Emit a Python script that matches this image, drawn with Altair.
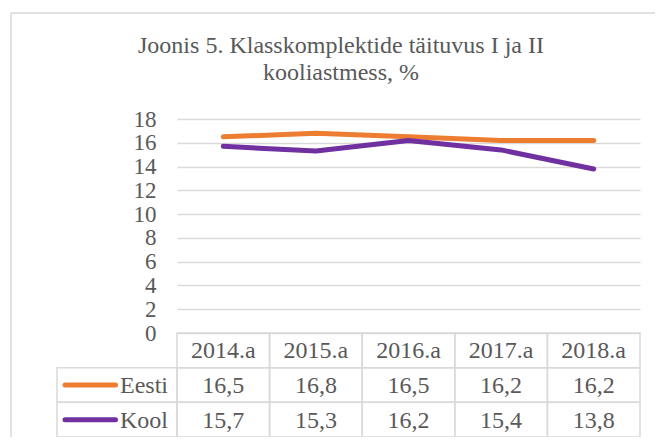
import altair as alt
import pandas as pd

# ---- data ----
years = ["2014.a", "2015.a", "2016.a", "2017.a", "2018.a"]
series = ["Eesti", "Kool"]
eesti = [16.5, 16.8, 16.5, 16.2, 16.2]
kool = [15.7, 15.3, 16.2, 15.4, 13.8]
colors = ["#ED7D31", "#7030A0"]
y_ticks = [0, 2, 4, 6, 8, 10, 12, 14, 16, 18]
title_lines = ["Joonis 5. Klasskomplektide täituvus I ja II", "kooliastmess, %"]
row_order = ["header"] + series

FONT = "Liberation Serif"
GREY = "#595959"
LINE = "#d9d9d9"

rows = []
for s, vals in zip(series, [eesti, kool]):
    for yr, v in zip(years, vals):
        rows.append({"year": yr, "series": s, "value": v,
                     "label": f"{v:.1f}".replace(".", ",")})
df = pd.DataFrame(rows)
header_df = pd.DataFrame({"year": years, "series": ["header"] * len(years), "label": years})
cells_df = pd.concat([header_df[["year", "series"]], df[["year", "series"]]], ignore_index=True)
legend_df = pd.DataFrame({"series": series})
one = pd.DataFrame({"k": [0]})
title_df = pd.DataFrame({"t": ["\n".join(title_lines)]})

W, H = 463, 214

xscale = alt.Scale(type="band", domain=years, paddingInner=0, paddingOuter=0)
row_scale = alt.Scale(type="band", domain=row_order, range=[H, H + 104],
                      paddingInner=0, paddingOuter=0)
color_scale = alt.Scale(domain=series, range=colors)

lines = alt.Chart(df).mark_line(strokeWidth=5, strokeCap="round", strokeJoin="round").encode(
    x=alt.X("year:N", scale=xscale, axis=None, bandPosition=0.5),
    y=alt.Y("value:Q", scale=alt.Scale(domain=[0, 18], nice=False, zero=True),
            axis=alt.Axis(values=y_ticks, grid=True, gridColor=LINE, gridWidth=1.5,
                          ticks=False, domain=False, labelFont=FONT, labelFontSize=23,
                          labelColor=GREY, labelPadding=21, title=None)),
    color=alt.Color("series:N", scale=color_scale, legend=None),
)

cells = alt.Chart(cells_df).mark_rect(filled=False, stroke=LINE, strokeWidth=1.5).encode(
    x=alt.X("year:N", scale=xscale, axis=None),
    y=alt.Y("series:N", scale=row_scale, axis=None),
)

legend_cells = alt.Chart(legend_df).mark_rect(filled=False, stroke=LINE, strokeWidth=1.5).encode(
    x=alt.value(-120), x2=alt.value(0),
    y=alt.Y("series:N", scale=row_scale, axis=None),
)

header_text = alt.Chart(header_df).mark_text(font=FONT, fontSize=24, color=GREY,
                                             baseline="middle", dy=1).encode(
    x=alt.X("year:N", scale=xscale, axis=None, bandPosition=0.5),
    y=alt.Y("series:N", scale=row_scale, axis=None, bandPosition=0.5),
    text="label:N",
)

value_text = alt.Chart(df).mark_text(font=FONT, fontSize=24, color=GREY,
                                     baseline="middle", dy=1).encode(
    x=alt.X("year:N", scale=xscale, axis=None, bandPosition=0.5),
    y=alt.Y("series:N", scale=row_scale, axis=None, bandPosition=0.5),
    text="label:N",
)

legend_lines = alt.Chart(legend_df).mark_rule(strokeWidth=5, strokeCap="round").encode(
    x=alt.value(-112), x2=alt.value(-61.5),
    y=alt.Y("series:N", scale=row_scale, axis=None, bandPosition=0.5),
    color=alt.Color("series:N", scale=color_scale, legend=None),
)

legend_text = alt.Chart(legend_df).mark_text(font=FONT, fontSize=24, color=GREY,
                                             align="right", baseline="middle", dy=1).encode(
    x=alt.value(-9),
    y=alt.Y("series:N", scale=row_scale, axis=None, bandPosition=0.5),
    text="series:N",
)

title_text = alt.Chart(title_df).mark_text(font=FONT, fontSize=24, color=GREY,
                                           align="center", baseline="alphabetic",
                                           lineBreak="\n", lineHeight=27).encode(
    x=alt.value(164), y=alt.value(-66), text="t:N",
)

frame_top = alt.Chart(one).mark_rule(color=LINE, strokeWidth=1.5).encode(
    x=alt.value(-166), x2=alt.value(W + 20), y=alt.value(-106),
)
frame_left = alt.Chart(one).mark_rule(color=LINE, strokeWidth=1.5).encode(
    x=alt.value(-166), y=alt.value(-106), y2=alt.value(H + 120),
)

chart = alt.layer(
    frame_top, frame_left, cells, legend_cells, lines, header_text, value_text,
    legend_lines, legend_text, title_text,
).resolve_scale(y="independent").properties(
    width=W, height=H,
    autosize=alt.AutoSizeParams(type="none"),
    padding={"left": 169, "top": 111, "right": 15, "bottom": 104},
    background="white",
).configure_view(stroke=None)

chart.save("out.html", embed_options={"renderer": "svg", "actions": False})
